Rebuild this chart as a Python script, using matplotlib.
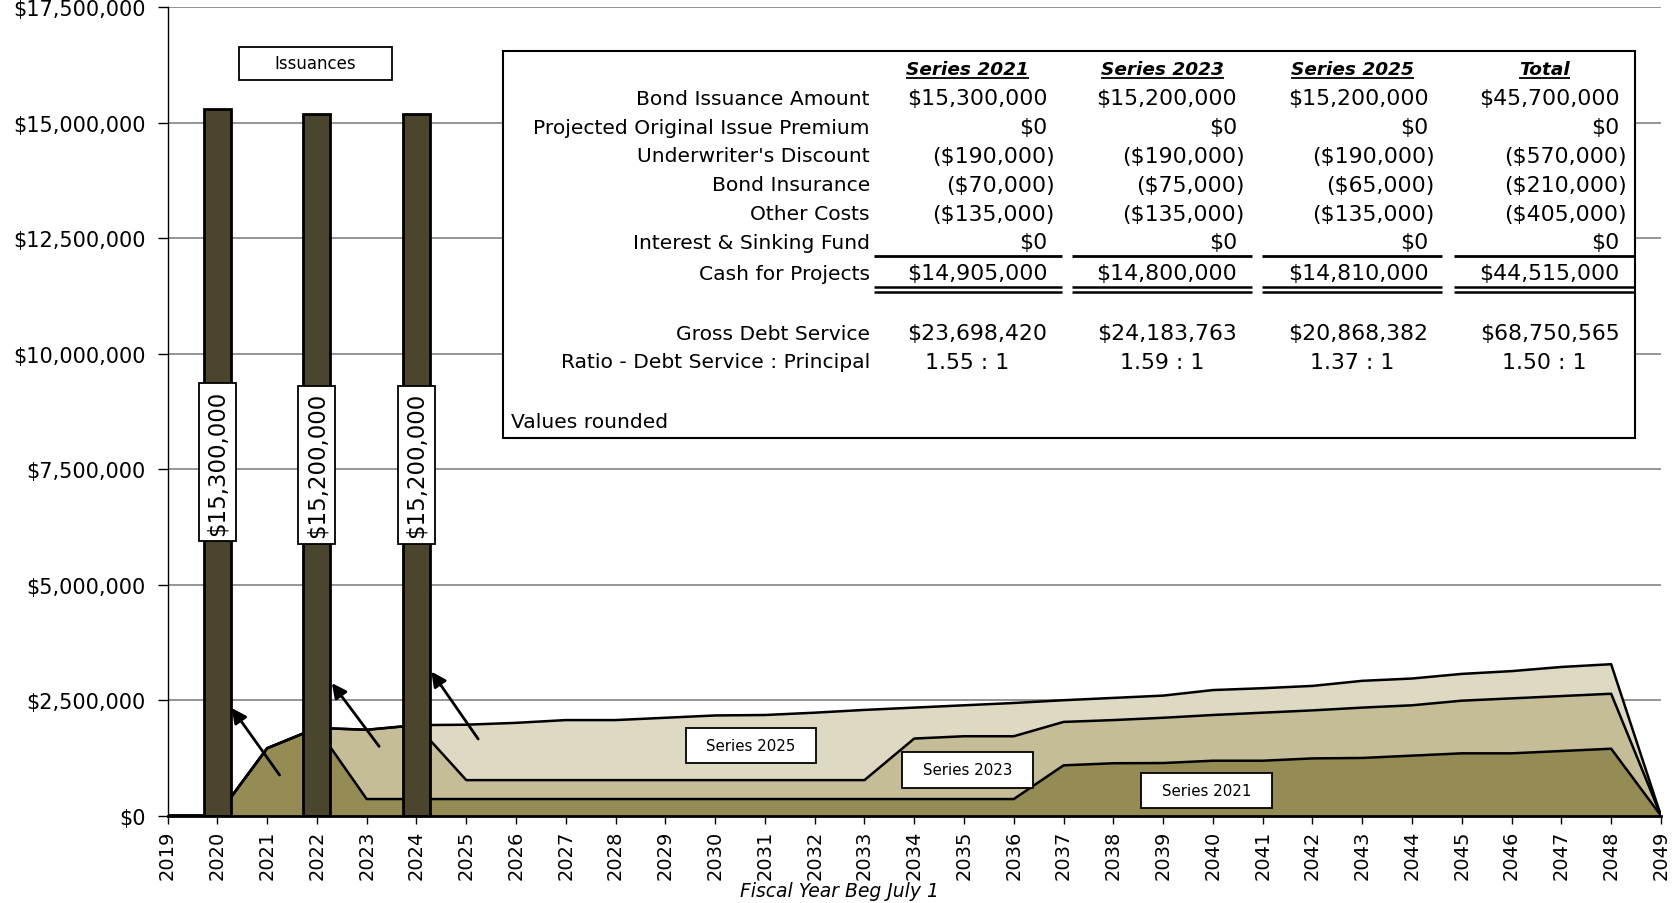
import matplotlib
matplotlib.use("Agg")
import matplotlib.pyplot as plt
from matplotlib.patches import Rectangle
from matplotlib.ticker import FuncFormatter, MultipleLocator

# ---- data -------------------------------------------------------------
years = list(range(2019, 2050))

# annual debt service, $ millions, by series
series_2021 = [0, 0, 1.46, 1.90, 0.36, 0.36, 0.36, 0.36, 0.36, 0.36, 0.36, 0.36,
               0.36, 0.36, 0.36, 0.36, 0.36, 0.36, 1.09, 1.135, 1.14, 1.19, 1.19,
               1.24, 1.25, 1.30, 1.35, 1.35, 1.40, 1.45, 0]
series_2023 = [0, 0, 0, 0, 1.50, 1.60, 0.41, 0.41, 0.41, 0.41, 0.41, 0.41,
               0.41, 0.41, 0.41, 1.31, 1.36, 1.36, 0.94, 0.935, 0.98, 0.99, 1.04,
               1.04, 1.09, 1.09, 1.14, 1.19, 1.19, 1.19, 0]
series_2025 = [0, 0, 0, 0, 0, 0, 1.20, 1.24, 1.30, 1.30, 1.35, 1.40,
               1.41, 1.46, 1.52, 0.67, 0.67, 0.72, 0.47, 0.48, 0.48, 0.54, 0.53,
               0.53, 0.58, 0.58, 0.58, 0.59, 0.63, 0.64, 0]

issue_years = [2020, 2022, 2024]
issue_amounts = [15_300_000, 15_200_000, 15_200_000]

table_headers = ["Series 2021", "Series 2023", "Series 2025", "Total"]
row_labels = ["Bond Issuance Amount", "Projected Original Issue Premium",
              "Underwriter's Discount", "Bond Insurance", "Other Costs",
              "Interest & Sinking Fund", "Cash for Projects"]
bond_amount = [15_300_000, 15_200_000, 15_200_000, 45_700_000]
oip = [0, 0, 0, 0]
uw_discount = [-190_000, -190_000, -190_000, -570_000]
bond_insurance = [-70_000, -75_000, -65_000, -210_000]
other_costs = [-135_000, -135_000, -135_000, -405_000]
isf = [0, 0, 0, 0]
cash_for_projects = [14_905_000, 14_800_000, 14_810_000, 44_515_000]
gross_debt_service = [23_698_420, 24_183_763, 20_868_382, 68_750_565]
ds_ratio = [1.55, 1.59, 1.37, 1.50]

area_names = ["Series 2021", "Series 2023", "Series 2025"]
area_label_pos = [(2039.87, 0.55e6), (2035.07, 0.99e6), (2030.72, 1.52e6)]
arrow_tails = [(2021.25, 0.88e6), (2023.25, 1.50e6), (2025.24, 1.66e6)]
arrow_heads = [(2020.29, 2.33e6), (2022.30, 2.87e6), (2024.30, 3.12e6)]

# ---- style ------------------------------------------------------------
plt.rcParams["font.family"] = ["DejaVu Sans"]
c_2021 = "#958B55"
c_2023 = "#C4BD98"
c_2025 = "#DDD9C2"
c_bar = "#4A452C"

fig = plt.figure(figsize=(16.74, 9.04), dpi=100)
ax = fig.add_axes([0.1001, 0.0966, 0.8921, 0.8940])

# ---- stacked debt service areas ---------------------------------------
s1 = [v * 1e6 for v in series_2021]
s2 = [a + v * 1e6 for a, v in zip(s1, series_2023)]
s3 = [a + v * 1e6 for a, v in zip(s2, series_2025)]
ax.fill_between(years, 0, s1, color=c_2021, lw=0, zorder=2)
ax.fill_between(years, s1, s2, color=c_2023, lw=0, zorder=2)
ax.fill_between(years, s2, s3, color=c_2025, lw=0, zorder=2)
for top in (s1, s2, s3):
    ax.plot(years, top, color="black", lw=1.8, zorder=2.5, solid_joinstyle="round")

# ---- issuance bars ----------------------------------------------------
ax.bar(issue_years, issue_amounts, width=0.54, color=c_bar, edgecolor="black",
       linewidth=2, zorder=3)
for x, amt in zip(issue_years, issue_amounts):
    ax.add_patch(Rectangle((x - 0.37, amt / 2 - 1.71e6), 0.74, 3.42e6,
                           facecolor="white", edgecolor="black", lw=1.3, zorder=4))
    ax.text(x, amt / 2, f"${amt:,.0f}", rotation=90, ha="center", va="center",
            fontsize=16.5, zorder=5)

# ---- arrows -----------------------------------------------------------
for tail, head in zip(arrow_tails, arrow_heads):
    ax.annotate("", xy=head, xytext=tail,
                arrowprops=dict(arrowstyle="-|>", color="black", lw=2,
                                mutation_scale=22, shrinkA=0, shrinkB=0),
                zorder=4)

# ---- labelled boxes ---------------------------------------------------
def label_box(x, y, text, w, h, size):
    ax.add_patch(Rectangle((x - w / 2, y - h / 2), w, h, facecolor="white",
                           edgecolor="black", lw=1.3, zorder=4))
    ax.text(x, y, text, ha="center", va="center", fontsize=size, zorder=5)

label_box(2021.97, 16.29e6, "Issuances", 3.07, 0.715e6, 12)
for (x, y), name in zip(area_label_pos, area_names):
    label_box(x, y, name, 2.63, 0.76e6, 10.8)

# ---- axes -------------------------------------------------------------
ax.set_xlim(2019, 2049)
ax.set_ylim(0, 17_500_000)
ax.set_xticks(years)
ax.set_xticklabels([str(y) for y in years], rotation=90, fontsize=14)
ax.yaxis.set_major_locator(MultipleLocator(2_500_000))
ax.yaxis.set_major_formatter(FuncFormatter(lambda v, p: f"${v:,.0f}"))
ax.tick_params(axis="y", labelsize=15, length=7, width=1, pad=9, direction="out")
ax.tick_params(axis="x", length=6, width=1, pad=4, direction="out")
ax.grid(axis="y", color="#8C8C8C", lw=1.3, zorder=1)
ax.set_axisbelow(True)
for side in ("top", "right"):
    ax.spines[side].set_visible(False)
ax.spines["left"].set_linewidth(1.0)
ax.spines["bottom"].set_linewidth(2.0)
ax.spines["bottom"].set_zorder(6)
ax.text(0.4496, -0.0925, "Fiscal Year Beg July 1", transform=ax.transAxes,
        ha="center", va="center", fontsize=13.5, style="italic")

# ---- sources & uses table --------------------------------------------
T = ax.transAxes
ax.add_patch(Rectangle((0.2245, 0.4676), 0.9829 - 0.2245, 0.9458 - 0.4676,
                       transform=T, facecolor="white", edgecolor="black",
                       lw=1.5, zorder=6))

label_x = 0.4703
pos_right = [0.5890, 0.7162, 0.8442, 0.9721]
neg_right = [0.5940, 0.7212, 0.8485, 0.9771]
col_center = [0.5354, 0.6662, 0.7934, 0.9221]
row_y = [0.8877, 0.8520, 0.8164, 0.7807, 0.7451, 0.7094, 0.6711]
rule_spans = [(0.4732, 0.5990), (0.6054, 0.7262), (0.7327, 0.8535), (0.8613, 0.9829)]
lsize = 14.6
nsize = 15.8


def money(v):
    return f"(${-v:,.0f})" if v < 0 else f"${v:,.0f}"


headers = []
for cx, h in zip(col_center, table_headers):
    headers.append(ax.text(cx, 0.9234, h, transform=T, ha="center", va="center",
                           fontsize=13.3, fontweight="bold", style="italic", zorder=7))

table_rows = [bond_amount, oip, uw_discount, bond_insurance, other_costs, isf,
              cash_for_projects]
for ry, lab, vals in zip(row_y, row_labels, table_rows):
    ax.text(label_x, ry, lab, transform=T, ha="right", va="center",
            fontsize=lsize, zorder=7)
    for i, v in enumerate(vals):
        xr = neg_right[i] if v < 0 else pos_right[i]
        ax.text(xr, ry, money(v), transform=T, ha="right", va="center",
                fontsize=nsize, zorder=7)

ax.text(label_x, 0.5971, "Gross Debt Service", transform=T, ha="right",
        va="center", fontsize=lsize, zorder=7)
ax.text(label_x, 0.5614, "Ratio - Debt Service : Principal", transform=T,
        ha="right", va="center", fontsize=lsize, zorder=7)
for i in range(4):
    ax.text(pos_right[i], 0.5971, money(gross_debt_service[i]), transform=T,
            ha="right", va="center", fontsize=nsize, zorder=7)
    ax.text(col_center[i], 0.5614, f"{ds_ratio[i]:.2f} : 1", transform=T,
            ha="center", va="center", fontsize=nsize, zorder=7)
ax.text(0.2302, 0.4875, "Values rounded", transform=T, ha="left", va="center",
        fontsize=lsize, zorder=7)

for x0, x1 in rule_spans:
    ax.plot([x0, x1], [0.6922, 0.6922], transform=T, color="black", lw=2,
            zorder=7, solid_capstyle="butt")
    for yy in (0.6539, 0.6480):
        ax.plot([x0, x1], [yy, yy], transform=T, color="black", lw=1.8,
                zorder=7, solid_capstyle="butt")

# underline the column headings
fig.canvas.draw()
renderer = fig.canvas.get_renderer()
inv = T.inverted()
for t in headers:
    bb = t.get_window_extent(renderer)
    (x0, y0), (x1, _) = inv.transform([(bb.x0, bb.y0), (bb.x1, bb.y1)])
    ax.plot([x0, x1], [y0 + 0.001, y0 + 0.001], transform=T, color="black",
            lw=1.3, zorder=7, solid_capstyle="butt")

fig.savefig("out.png", dpi=100)
